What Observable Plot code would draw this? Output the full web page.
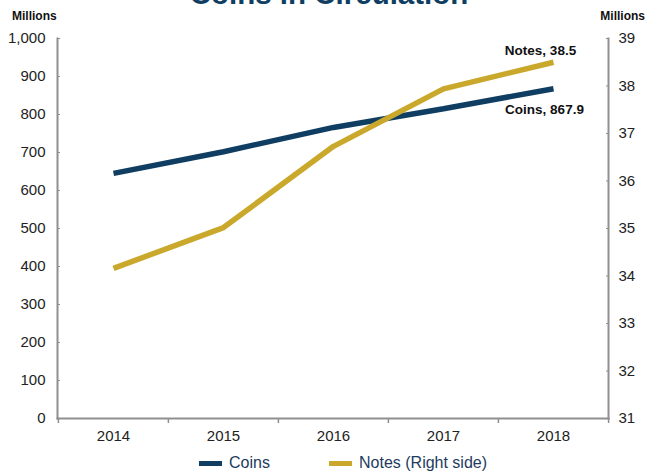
<!DOCTYPE html>
<html>
<head>
<meta charset="utf-8">
<script src="https://cdn.jsdelivr.net/npm/d3@7"></script>
<script src="https://cdn.jsdelivr.net/npm/@observablehq/plot@0.6"></script>
<style>
  body { margin: 0; background: #fff; font-family: "Liberation Sans", Arial, Helvetica, sans-serif; }
  #wrap { position: relative; width: 646px; height: 472px; overflow: hidden; }
  #title { position: absolute; left: 6px; width: 646px; top: -21px; text-align: center; font-size: 29.5px; font-weight: bold; color: #0f3e62; line-height: 30px; }
  .unit { position: absolute; top: 9px; font-size: 12px; font-weight: bold; color: #111; }
  #legend { position: absolute; top: 454px; left: 0; width: 646px; height: 18px; font-size: 16px; color: #1d3b5e; }
  .item { position: absolute; top: 0; display: flex; align-items: center; height: 18px; }
  .sw { width: 23px; height: 5px; margin-right: 7px; }
  #chart { position: absolute; left: 0; top: 0; }
</style>
</head>
<body>
<div id="wrap">
  <div id="chart"></div>
  <div id="title">Coins in Circulation</div>
  <div class="unit" style="left:12px">Millions</div>
  <div class="unit" style="right:1px">Millions</div>
  <div id="legend"></div>
</div>
<script>
const years = ["2014", "2015", "2016", "2017", "2018"];
const coins = [645, 702, 766, 815, 867.9];
const notes = [34.16, 35.02, 36.73, 37.94, 38.5];
const leftTicks = [0, 100, 200, 300, 400, 500, 600, 700, 800, 900, 1000];
const rightTicks = [31, 32, 33, 34, 35, 36, 37, 38, 39];
const seriesNames = ["Coins", "Notes (Right side)"];
const colors = { coins: "#0f3e62", notes: "#c9a82c" };
const annotations = ["Coins, 867.9", "Notes, 38.5"];

// map right-axis (notes) values into the left-axis domain
const rMin = 31, rMax = 39, lMax = 1000;
const toLeft = v => (v - rMin) / (rMax - rMin) * lMax;
const fromLeft = v => v / lMax * (rMax - rMin) + rMin;

const coinData = years.map((y, i) => ({ year: y, value: coins[i] }));
const noteData = years.map((y, i) => ({ year: y, value: toLeft(notes[i]), raw: notes[i] }));

const W = 646, H = 448, ML = 57, MR = 38, MT = 38, MB = 30;
const step = (W - ML - MR) / years.length;
const axisColor = "#8f8f8f";

const chart = Plot.plot({
  width: W, height: H,
  marginLeft: ML, marginRight: MR, marginTop: MT, marginBottom: MB,
  style: { fontFamily: "Liberation Sans, Arial, Helvetica, sans-serif", fontSize: "15px", color: "#222", background: "#fff" },
  x: { type: "point", domain: years, padding: 0.5 },
  y: { domain: [0, lMax] },
  marks: [
    Plot.frame({ anchor: "left", stroke: axisColor, strokeWidth: 2 }),
    Plot.frame({ anchor: "right", stroke: axisColor, strokeWidth: 2 }),
    Plot.frame({ anchor: "bottom", stroke: axisColor, strokeWidth: 2 }),
    Plot.axisY({ anchor: "left", ticks: leftTicks, tickFormat: d3.format(","), tickSize: 0, tickPadding: 12, label: null, fontSize: 15 }),
    Plot.axisY({ anchor: "left", ticks: leftTicks, tickSize: 3, dx: 3, text: null, label: null, stroke: axisColor }),
    Plot.axisY({ anchor: "right", ticks: rightTicks.map(toLeft), tickFormat: d => String(Math.round(fromLeft(d))), tickSize: 0, tickPadding: 10, label: null, fontSize: 15 }),
    Plot.axisY({ anchor: "right", ticks: rightTicks.map(toLeft), tickSize: 3, dx: -3, text: null, label: null, stroke: axisColor }),
    Plot.axisX({ anchor: "bottom", tickSize: 0, tickPadding: 12, label: null, fontSize: 15 }),
    Plot.axisX({ anchor: "bottom", tickSize: 5, dx: -step / 2, text: null, label: null, stroke: axisColor, strokeWidth: 1.5 }),
    Plot.axisX({ anchor: "bottom", ticks: [years[years.length - 1]], tickSize: 5, dx: step / 2, text: null, label: null, stroke: axisColor, strokeWidth: 1.5 }),
    Plot.line(coinData, { x: "year", y: "value", stroke: colors.coins, strokeWidth: 5.5, strokeLinejoin: "miter", strokeLinecap: "butt" }),
    Plot.line(noteData, { x: "year", y: "value", stroke: colors.notes, strokeWidth: 5.5, strokeLinejoin: "miter", strokeLinecap: "butt" }),
    Plot.text([coinData[coinData.length - 1]], { x: "year", y: "value", text: () => annotations[0], dx: -9, dy: 21, fontWeight: "bold", fontSize: 13.5, fill: "#111" }),
    Plot.text([noteData[noteData.length - 1]], { x: "year", y: "value", text: () => annotations[1], dx: -13, dy: -12, fontWeight: "bold", fontSize: 13.5, fill: "#111" })
  ]
});
document.getElementById("chart").appendChild(chart);

const legend = document.getElementById("legend");
const legendPos = [199, 329];
[colors.coins, colors.notes].forEach((c, i) => {
  const item = document.createElement("div");
  item.className = "item";
  item.style.left = legendPos[i] + "px";
  item.innerHTML = `<span class="sw" style="background:${c}"></span><span>${seriesNames[i]}</span>`;
  legend.appendChild(item);
});
</script>
</body>
</html>
